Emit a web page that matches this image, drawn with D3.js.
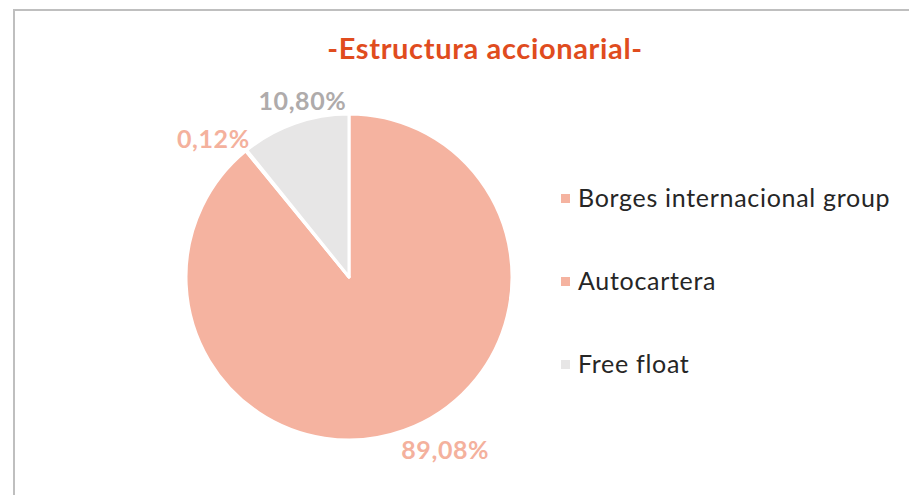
<!DOCTYPE html>
<html>
<head>
<meta charset="utf-8">
<script src="https://cdn.jsdelivr.net/npm/d3@7"></script>
<style>
  body { margin: 0; background: #fff; }
  svg { display: block; font-family: 'Lato', 'Open Sans', sans-serif; }
</style>
</head>
<body>
<div class="canvas"></div>
<script>
// data
const categories = ['Borges internacional group', 'Autocartera', 'Free float'];
const values = [89.08, 0.12, 10.80];
const valueLabels = ['89,08%', '0,12%', '10,80%'];

const dimension = { width: 909, height: 495, radius: 163 };
const center = { x: 349, y: 277 };

const fills = ['#F5B3A0', '#F5B3A0', '#E7E6E6'];
const labelFills = ['#F4B19D', '#F4B19D', '#AFABAB'];
// small nudges so the labels sit where the original "best fit" put them
const labelNudge = [[34, -1], [-19, 6], [15, -2]];

const data = categories.map((name, i) => ({ name, value: values[i], label: valueLabels[i], i }));

const svg = d3.select('.canvas')
    .append('svg')
    .attr('width', dimension.width)
    .attr('height', dimension.height);

// chart border
svg.append('rect')
    .attr('x', 14)
    .attr('y', 10)
    .attr('width', 1000)
    .attr('height', 1000)
    .attr('fill', 'none')
    .attr('stroke', '#BFBFBF')
    .attr('stroke-width', 2);

// title
svg.append('text')
    .attr('x', 485)
    .attr('y', 59)
    .attr('text-anchor', 'middle')
    .attr('font-size', 29)
    .attr('font-weight', 'bold')
    .attr('letter-spacing', 0.65)
    .attr('fill', '#E04C1E')
    .text('-Estructura accionarial-');

const graph = svg.append('g')
    .attr('transform', `translate(${center.x}, ${center.y})`);

const pie = d3.pie()
    .sort(null)
    .value(d => d.value);

const arcPath = d3.arc()
    .outerRadius(dimension.radius)
    .innerRadius(0);

const labelArc = d3.arc()
    .outerRadius(dimension.radius + 22)
    .innerRadius(dimension.radius + 22);

const slices = pie(data);

graph.selectAll('path')
    .data(slices)
    .enter()
    .append('path')
        .attr('d', arcPath)
        .attr('fill', d => fills[d.data.i])
        .attr('stroke', '#fff')
        .attr('stroke-width', 3)
        .attr('stroke-linejoin', 'round');

graph.selectAll('text.lbl')
    .data(slices)
    .enter()
    .append('text')
        .attr('class', 'lbl')
        .attr('transform', d => {
            const c = labelArc.centroid(d);
            const n = labelNudge[d.data.i];
            return `translate(${c[0] + n[0]}, ${c[1] + n[1]})`;
        })
        .attr('dy', 9)
        .attr('text-anchor', 'middle')
        .attr('font-size', 25)
        .attr('font-weight', 'bold')
        .attr('letter-spacing', 0.6)
        .attr('fill', d => labelFills[d.data.i])
        .text(d => d.data.label);

// legend
const legendY = d3.scalePoint()
    .domain(categories)
    .range([198.5, 364.5]);

const legend = svg.append('g');

const items = legend.selectAll('g')
    .data(data)
    .enter()
    .append('g')
        .attr('transform', d => `translate(561, ${legendY(d.name)})`);

items.append('rect')
    .attr('x', 0)
    .attr('y', -4.5)
    .attr('width', 9)
    .attr('height', 9)
    .attr('fill', d => fills[d.i]);

items.append('text')
    .attr('x', 17)
    .attr('y', 8.5)
    .attr('font-size', 25)
    .attr('letter-spacing', 0.7)
    .attr('fill', '#262626')
    .text(d => d.name);
</script>
</body>
</html>
